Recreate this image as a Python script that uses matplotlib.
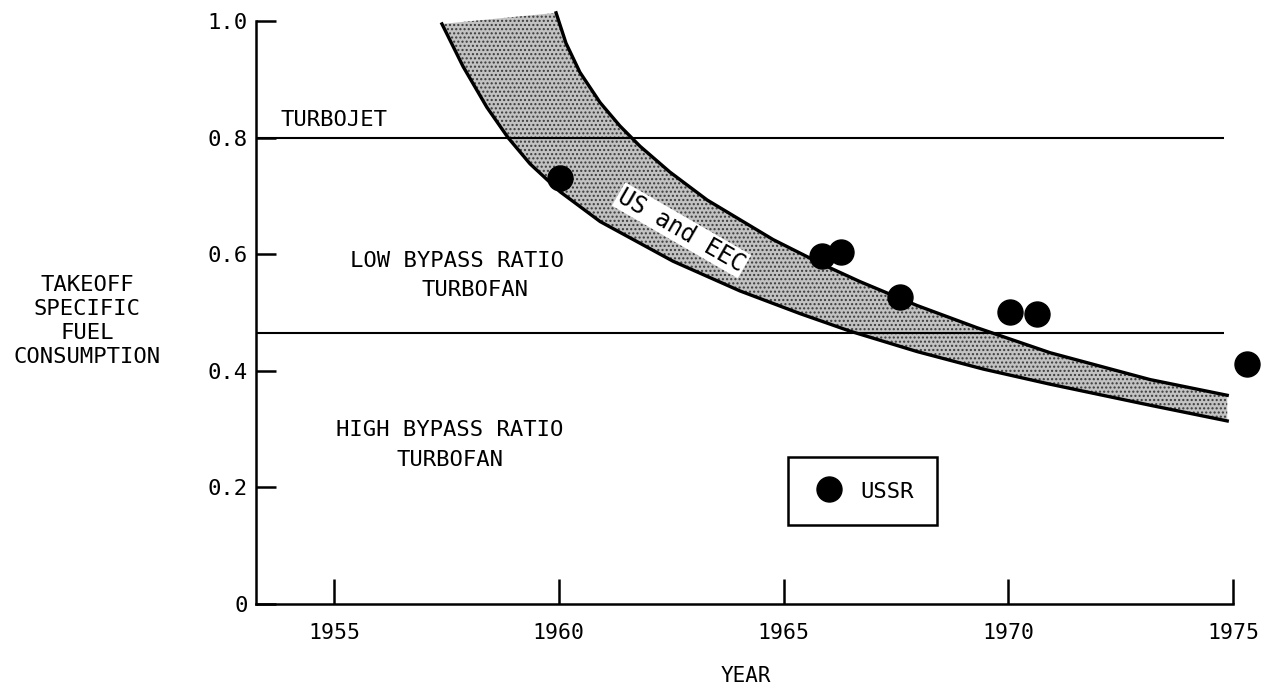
import numpy as np
import matplotlib.pyplot as plt

plt.rcParams['font.family'] = 'DejaVu Sans Mono'

# band edges (US and EEC)
lower_year = [1957.40, 1957.87, 1958.40, 1958.87, 1959.36, 1960.03, 1960.92, 1962.54,
              1964.03, 1965.37, 1966.48, 1967.97, 1969.44, 1970.93, 1973.15, 1974.87]
lower_sfc = [0.995, 0.922, 0.852, 0.800, 0.755, 0.707, 0.656, 0.588,
             0.537, 0.498, 0.468, 0.433, 0.403, 0.377, 0.341, 0.314]
upper_year = [1959.94, 1960.16, 1960.47, 1960.92, 1961.36, 1961.81, 1962.47, 1963.30,
              1964.77, 1965.88, 1966.70, 1967.97, 1969.30, 1970.93, 1973.15, 1974.87]
upper_sfc = [1.014, 0.962, 0.912, 0.860, 0.820, 0.785, 0.741, 0.693,
             0.625, 0.582, 0.553, 0.512, 0.474, 0.431, 0.385, 0.358]

# USSR engines
ussr_year = [1960.03, 1965.86, 1966.28, 1967.59, 1970.04, 1970.64, 1975.31]
ussr_sfc = [0.731, 0.597, 0.604, 0.527, 0.501, 0.497, 0.412]

# class boundaries
boundaries = [0.80, 0.465]

xticks = [1955, 1960, 1965, 1970, 1975]
yticks = [0, 0.2, 0.4, 0.6, 0.8, 1.0]
ytick_labels = ['0', '0.2', '0.4', '0.6', '0.8', '1.0']

xmin, xmax = 1953.265, 1975.6

fig = plt.figure(figsize=(12.72, 6.88), dpi=100)
ax = fig.add_axes([0.2013, 0.1221, 0.7893, 0.8643])

band_x = lower_year + upper_year[::-1]
band_y = lower_sfc + upper_sfc[::-1]
ax.fill(band_x, band_y, facecolor='#c2c2c2', edgecolor='#3a3a3a', hatch='....',
        linewidth=0, zorder=1)

for b in boundaries:
    ax.hlines(b, xmin, 1974.8, color='black', linewidth=1.5, zorder=2)

ax.plot(lower_year, lower_sfc, color='black', linewidth=2.4, zorder=3)
ax.plot(upper_year, upper_sfc, color='black', linewidth=2.4, zorder=3)

ax.plot(ussr_year, ussr_sfc, 'o', color='black', markersize=18, linestyle='none',
        clip_on=False, zorder=4, label='USSR')

ax.text(1962.73, 0.641, 'US and EEC', rotation=-30, ha='center', va='center',
        fontsize=17, zorder=5,
        bbox=dict(facecolor='white', edgecolor='none', pad=1))

ax.text(1953.8, 0.830, 'TURBOJET', fontsize=16, ha='left', va='center')
ax.text(1955.35, 0.589, 'LOW BYPASS RATIO', fontsize=16, ha='left', va='center')
ax.text(1956.95, 0.538, 'TURBOFAN', fontsize=16, ha='left', va='center')
ax.text(1955.05, 0.299, 'HIGH BYPASS RATIO', fontsize=16, ha='left', va='center')
ax.text(1956.4, 0.247, 'TURBOFAN', fontsize=16, ha='left', va='center')

ax.set_xlim(xmin, xmax)
ax.set_ylim(0, 1.02)
for s in ['top', 'right']:
    ax.spines[s].set_visible(False)
ax.spines['left'].set_bounds(0, 1.0)
ax.spines['bottom'].set_bounds(xmin, 1975)
ax.spines['left'].set_linewidth(1.8)
ax.spines['bottom'].set_linewidth(1.8)

ax.set_xticks(xticks)
ax.set_xticklabels([str(t) for t in xticks])
ax.set_yticks(yticks)
ax.set_yticklabels(ytick_labels)
ax.tick_params(axis='x', direction='in', length=18, width=1.8, pad=14, labelsize=15.5)
ax.tick_params(axis='y', direction='in', length=14.5, width=1.8, pad=6, labelsize=16)

fig.text(87 / 1272, 1 - 321 / 688, 'TAKEOFF\nSPECIFIC\nFUEL\nCONSUMPTION',
         ha='center', va='center', multialignment='center', fontsize=16, linespacing=1.25)
fig.text(746 / 1272, 1 - 676 / 688, 'YEAR', ha='center', va='center', fontsize=15)

leg = ax.legend(loc='upper left', bbox_to_anchor=(788 / 1272, 1 - 457 / 688),
                bbox_transform=fig.transFigure, borderaxespad=0, fontsize=16,
                frameon=True, fancybox=False, framealpha=1, edgecolor='black',
                borderpad=1.05, handlelength=1.55, handleheight=1.0, handletextpad=0.65)
leg.get_frame().set_linewidth(1.8)

fig.savefig('out.png', dpi=100)
